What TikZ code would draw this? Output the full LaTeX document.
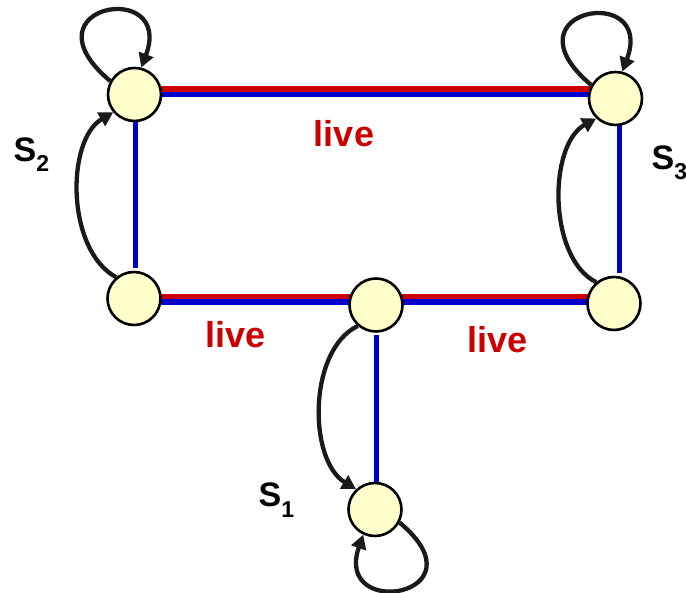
\documentclass[tikz,border=0pt]{standalone}
\usepackage{fontspec}
\setmainfont{Liberation Sans}
\usetikzlibrary{arrows.meta,calc,backgrounds}
\definecolor{lred}{HTML}{CC0000}
\definecolor{lblue}{HTML}{0000CC}
\definecolor{nodey}{HTML}{FFFFCC}
\definecolor{arcc}{HTML}{1A1A1A}
\begin{document}
\begin{tikzpicture}[x=1pt,y=1pt,
  state/.style={circle,draw=black,line width=2.6pt,fill=nodey,minimum size=53pt,inner sep=0pt},
  redline/.style={draw=lred,line width=5.5pt},
  blueline/.style={draw=lblue,line width=5.5pt},
  vline/.style={draw=lblue,line width=5pt},
  arcline/.style={draw=arcc,line width=4.3pt,-{Triangle[length=14pt,width=15pt]}},
  livelbl/.style={text=lred,font=\fontsize{36}{36}\selectfont\bfseries,anchor=base,inner sep=0pt},
  slbl/.style={font=\bfseries,anchor=base west,inner sep=0pt}
]
\useasboundingbox (0,0) rectangle (686,593);
\clip (0,0) rectangle (686,593);
% states
\node[state] (A) at (134.5,498.5) {};
\node[state] (B) at (615.5,494.5) {};
\node[state] (C) at (134,294.5) {};
\node[state] (D) at (376,288) {};
\node[state] (E) at (614,289.5) {};
\node[state] (F) at (375,83.5) {};
% helper levels
\coordinate (ry1) at (0,504);
\coordinate (by1) at (0,498.5);
\coordinate (ry2) at (0,296.5);
\coordinate (by2) at (0,291);
\begin{scope}[on background layer]
  \draw[redline] (A |- ry1) -- (B |- ry1);
  \draw[blueline] (A |- by1) -- (B |- by1);
  \draw[redline] (C |- ry2) -- (D |- ry2);
  \draw[blueline] (C |- by2) -- (D |- by2);
  \draw[redline] (D |- ry2) -- (E |- ry2);
  \draw[blueline] (D |- by2) -- (E |- by2);
  \draw[vline,shorten >=30.5pt] ([xshift=1pt]A.center) -- ([xshift=1.5pt]C.center);
  \draw[vline,shorten >=30.5pt] ([xshift=4pt]B.center) -- ([xshift=5.5pt]E.center);
  \draw[vline,shorten <=30pt,shorten >=26pt] ([xshift=0.5pt]D.center) -- ([xshift=1.5pt]F.center);
\end{scope}
% transitions between states
\draw[arcline] (C.130) .. controls (66,343) and (66,453) .. (A.220);
\draw[arcline] (E.130) .. controls (548,335) and (548,448) .. (B.226);
\draw[arcline] (D.229) .. controls (308,243) and (308,133) .. (F.133);
% self loops
\draw[arcline] (A.151) .. controls ($(A)+(-114.5,89.5)$) and ($(A)+(40.5,116.5)$) .. (A.76);
\draw[arcline] (B.151) .. controls ($(B)+(-114.5,89.5)$) and ($(B)+(40.5,116.5)$) .. (B.76);
\draw[arcline] (F.-28) .. controls ($(F)+(112,-86)$) and ($(F)+(-42,-112)$) .. (F.245);
% labels
\node[livelbl] (L1) at (344,446) {live};
\node[livelbl] (L2) at (235.5,245) {live};
\node[livelbl] (L3) at (497.5,240) {live};
\node[slbl] (S2) at (13.5,431) {\fontsize{34}{34}\selectfont S\raisebox{-10pt}{\fontsize{23}{23}\selectfont 2}};
\node[slbl] (S3) at (651.5,423) {\fontsize{34}{34}\selectfont S\raisebox{-10pt}{\fontsize{23}{23}\selectfont 3}};
\node[slbl] (S1) at (258.5,86) {\fontsize{34}{34}\selectfont S\raisebox{-11pt}{\fontsize{23}{23}\selectfont 1}};
\end{tikzpicture}
\end{document}
